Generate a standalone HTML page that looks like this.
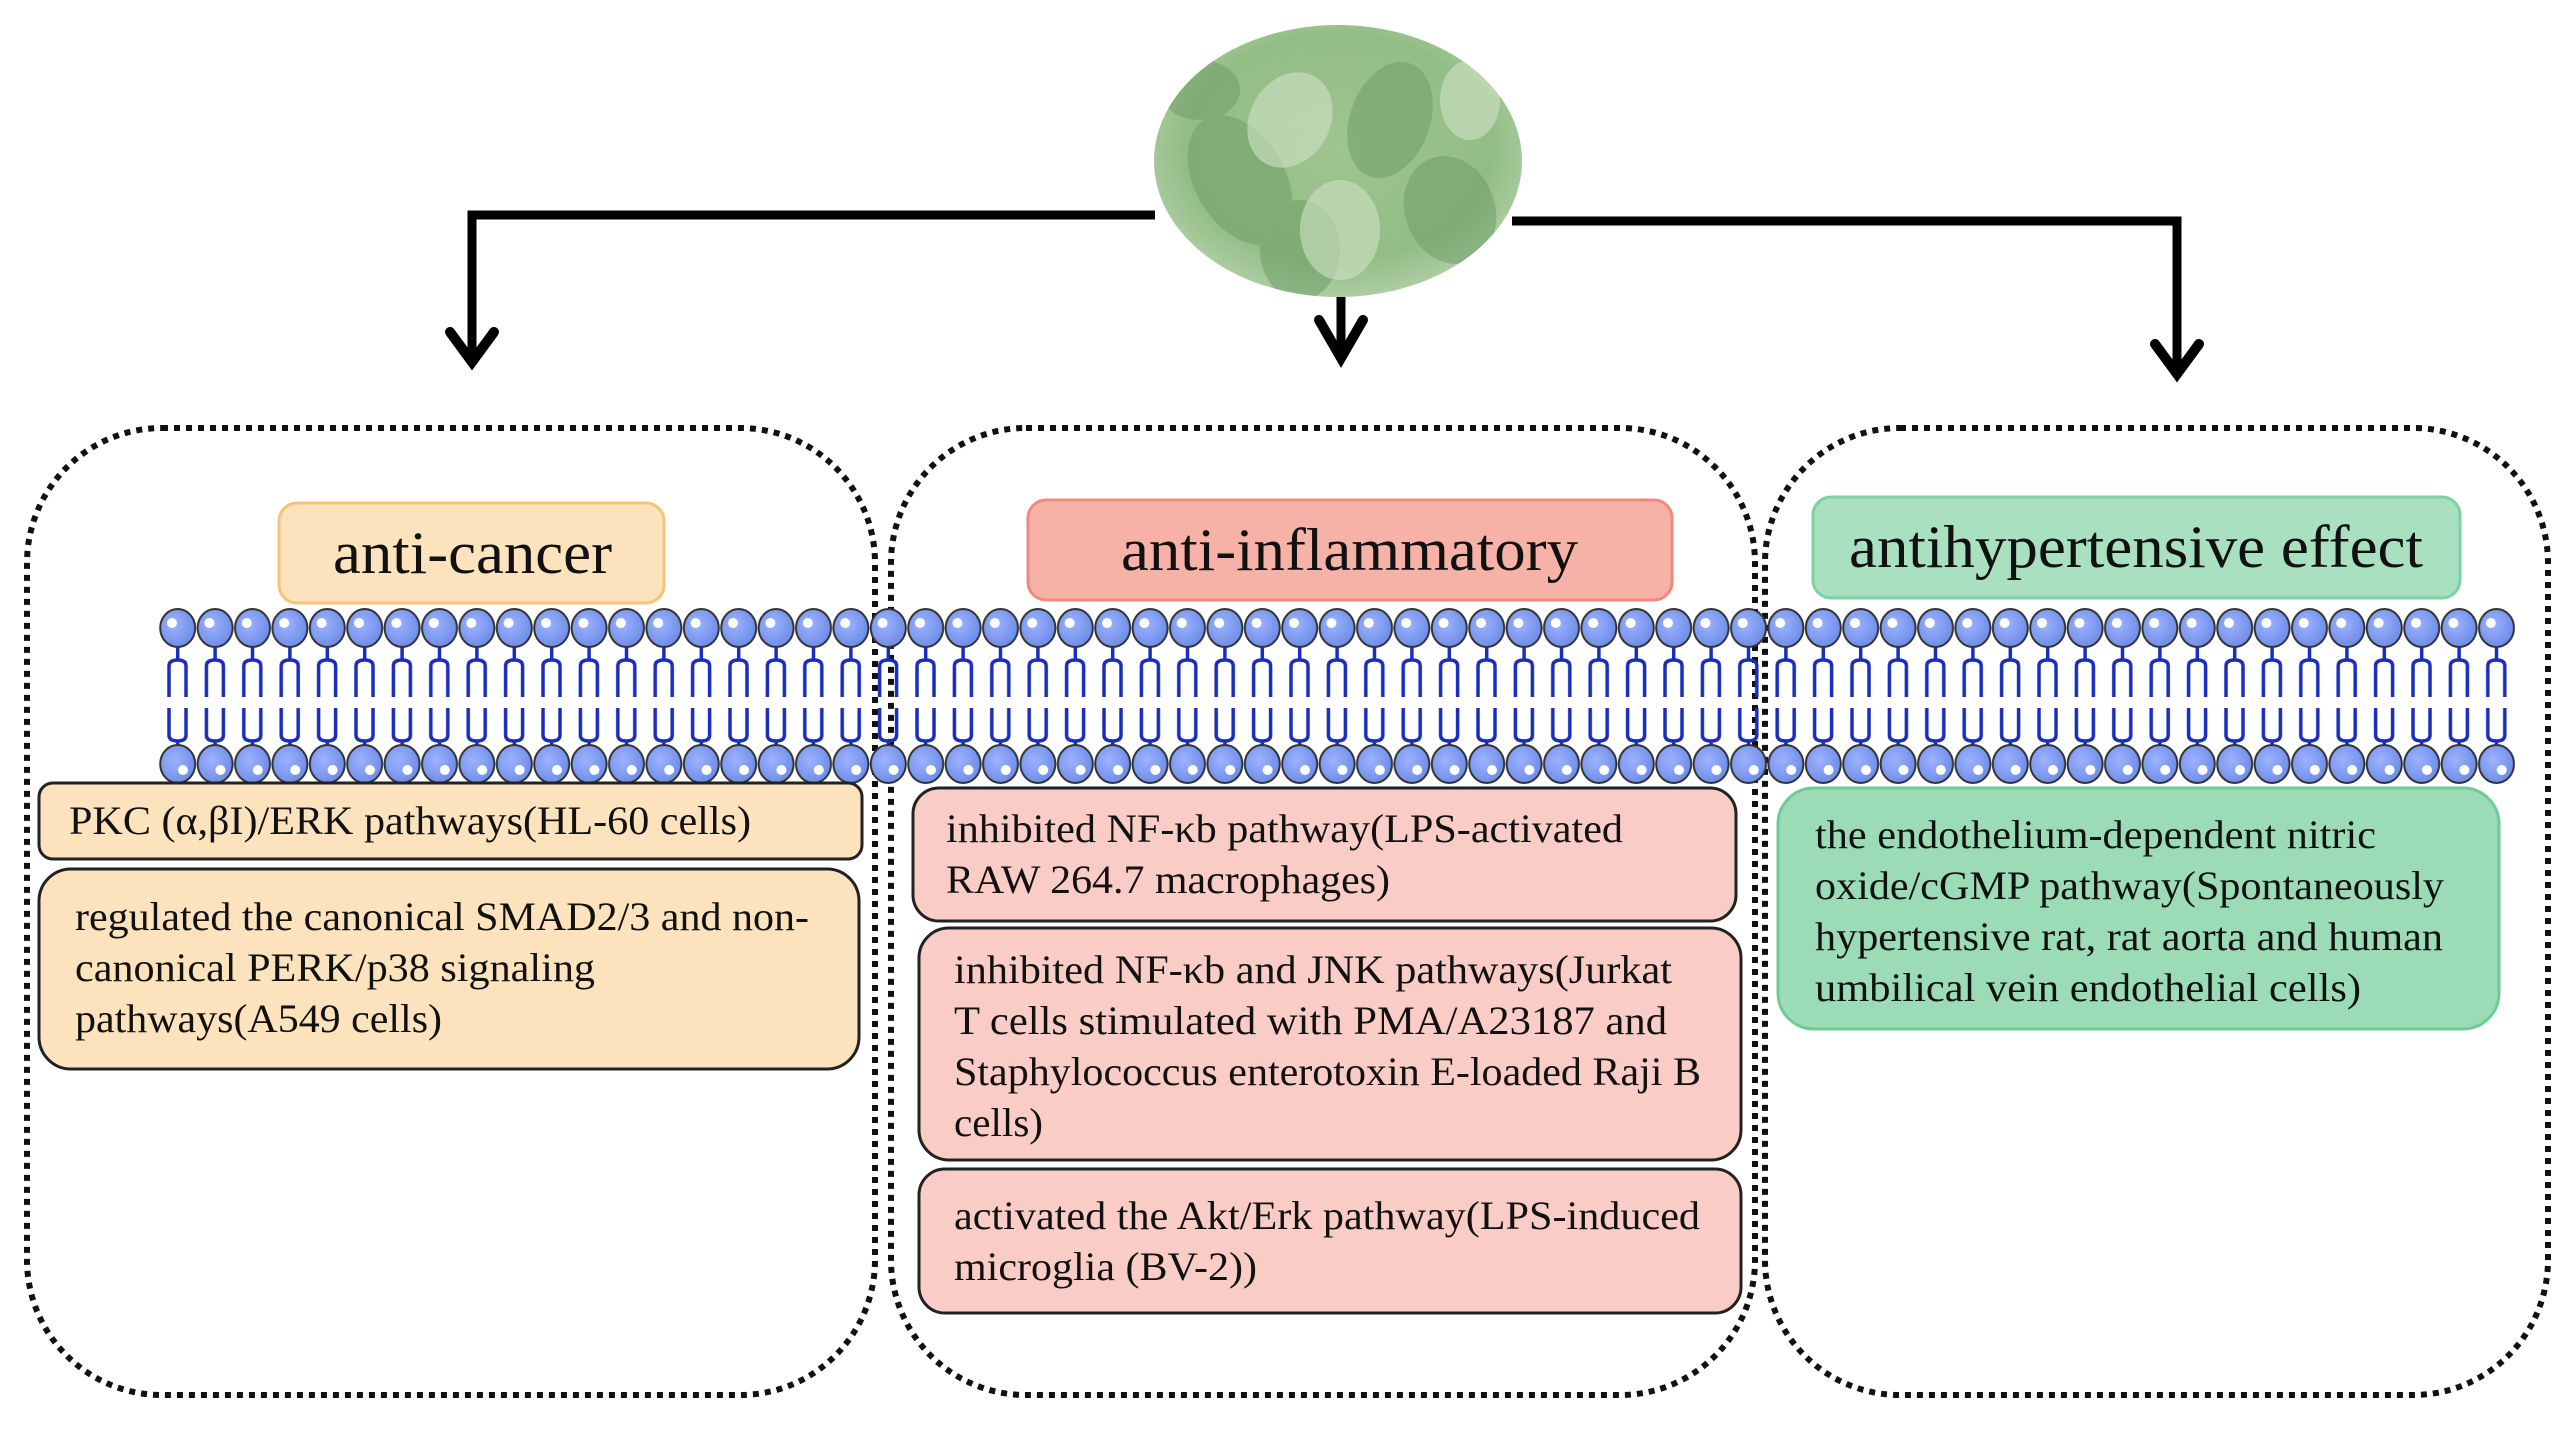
<!DOCTYPE html>
<html><head><meta charset="utf-8"><style>
html,body{margin:0;padding:0;background:#fff}
svg{display:block}
</style></head><body>
<svg width="2570" height="1430" viewBox="0 0 2570 1430" xmlns="http://www.w3.org/2000/svg" font-family="'Liberation Serif', 'DejaVu Serif', serif">
<defs>
<radialGradient id="leaf" cx="50%" cy="45%" r="60%">
<stop offset="0" stop-color="#9fc48f"/><stop offset="0.7" stop-color="#93bd86"/><stop offset="1" stop-color="#b7d3ae"/>
</radialGradient>
<radialGradient id="head" cx="40%" cy="40%" r="60%">
<stop offset="0" stop-color="#9db2ff"/><stop offset="1" stop-color="#6f8ee8"/>
</radialGradient>
<pattern id="lip" x="159" y="600" width="37.4" height="195" patternUnits="userSpaceOnUse">
<g stroke="#1a2dbf" stroke-width="3.5" fill="none">
<path d="M18.7 44 V60"/>
<path d="M10 97 V66 Q10 60 18.7 60 Q27 60 27 66 V97"/>
<path d="M10 108 V135 Q10 141 18.7 141 Q27 141 27 135 V108 M18.7 141 V150"/>
</g>
<ellipse cx="18.7" cy="28" rx="17.5" ry="19" fill="url(#head)" stroke="#333" stroke-width="2"/>
<circle cx="13" cy="23" r="5" fill="#fff"/>
<ellipse cx="18.7" cy="164" rx="17.5" ry="19" fill="url(#head)" stroke="#333" stroke-width="2"/>
<circle cx="24" cy="170" r="5" fill="#fff"/>
</pattern>
<clipPath id="ec"><ellipse cx="1338" cy="161" rx="184" ry="136"/></clipPath>
</defs>

<!-- leaf ellipse -->
<ellipse cx="1338" cy="161" rx="184" ry="136" fill="url(#leaf)"/>
<g clip-path="url(#ec)">
<g fill="#6f9f66" opacity="0.55">
<ellipse cx="1240" cy="180" rx="45" ry="70" transform="rotate(-30 1240 180)"/>
<ellipse cx="1390" cy="120" rx="40" ry="60" transform="rotate(20 1390 120)"/>
<ellipse cx="1450" cy="210" rx="45" ry="55" transform="rotate(-20 1450 210)"/>
<ellipse cx="1300" cy="250" rx="40" ry="50"/>
<ellipse cx="1200" cy="90" rx="40" ry="30"/>
</g>
<g fill="#cfe3c6" opacity="0.6">
<ellipse cx="1340" cy="230" rx="40" ry="50"/>
<ellipse cx="1290" cy="120" rx="40" ry="50" transform="rotate(30 1290 120)"/>
<ellipse cx="1470" cy="100" rx="30" ry="40"/>
</g>
</g>

<!-- connectors -->
<g stroke="#000" stroke-width="9" fill="none">
<polyline points="1155,215 472,215 472,360"/>
<polyline points="1512,221 2177,221 2177,372"/>
<line x1="1341" y1="297" x2="1341" y2="358"/>
</g>
<g stroke="#000" stroke-width="10" fill="none" stroke-linecap="round">
<polyline points="450,332 472,362 494,332"/>
<polyline points="1319,320 1341,358 1363,320"/>
<polyline points="2155,344 2177,374 2199,344"/>
</g>

<!-- dotted boxes -->
<g fill="none" stroke="#111" stroke-width="6" stroke-dasharray="6 6">
<rect x="27" y="428" width="848" height="967" rx="135"/>
<rect x="891" y="428" width="864" height="967" rx="135"/>
<rect x="1765" y="428" width="783" height="967" rx="135"/>
</g>

<!-- title boxes -->
<rect x="279" y="503" width="385" height="100" rx="18" fill="#fde3bd" stroke="#f8c27a" stroke-width="3"/>
<text x="333" y="573" font-size="60" fill="#111" textLength="279" lengthAdjust="spacingAndGlyphs">anti-cancer</text>
<rect x="1028" y="500" width="644" height="100" rx="18" fill="#f7b2a8" stroke="#f08a7d" stroke-width="3"/>
<text x="1121" y="570" font-size="60" fill="#111" textLength="457" lengthAdjust="spacingAndGlyphs">anti-inflammatory</text>
<rect x="1813" y="497" width="647" height="101" rx="18" fill="#a8e0c0" stroke="#7fd0a2" stroke-width="3"/>
<text x="1849" y="567" font-size="60" fill="#111" textLength="574" lengthAdjust="spacingAndGlyphs">antihypertensive effect</text>

<!-- membrane -->
<rect x="159" y="600" width="2356" height="195" fill="url(#lip)"/>

<g font-size="40" fill="#111">
<!-- left boxes -->
<rect x="39" y="783" width="823" height="76" rx="14" fill="#fde3bd" stroke="#222" stroke-width="3"/>
<text x="69" y="834" textLength="682" lengthAdjust="spacingAndGlyphs">PKC (α,βI)/ERK pathways(HL-60 cells)</text>
<rect x="39" y="869" width="820" height="200" rx="32" fill="#fde3bd" stroke="#222" stroke-width="3"/>
<text x="75" y="930" textLength="734" lengthAdjust="spacingAndGlyphs">regulated the canonical SMAD2/3 and non-</text>
<text x="75" y="981" textLength="520" lengthAdjust="spacingAndGlyphs">canonical PERK/p38 signaling</text>
<text x="75" y="1032" textLength="367" lengthAdjust="spacingAndGlyphs">pathways(A549 cells)</text>

<!-- middle boxes -->
<rect x="913" y="788" width="823" height="133" rx="26" fill="#f9cdc5" stroke="#222" stroke-width="3"/>
<text x="946" y="842" textLength="677" lengthAdjust="spacingAndGlyphs">inhibited NF-κb pathway(LPS-activated</text>
<text x="946" y="893" textLength="444" lengthAdjust="spacingAndGlyphs">RAW 264.7 macrophages)</text>
<rect x="919" y="928" width="822" height="232" rx="30" fill="#f9cdc5" stroke="#222" stroke-width="3"/>
<text x="954" y="983" textLength="718" lengthAdjust="spacingAndGlyphs">inhibited NF-κb and JNK pathways(Jurkat</text>
<text x="954" y="1034" textLength="713" lengthAdjust="spacingAndGlyphs">T cells stimulated with PMA/A23187 and</text>
<text x="954" y="1085" textLength="747" lengthAdjust="spacingAndGlyphs">Staphylococcus enterotoxin E-loaded Raji B</text>
<text x="954" y="1136" textLength="89" lengthAdjust="spacingAndGlyphs">cells)</text>
<rect x="919" y="1169" width="822" height="144" rx="26" fill="#f9cdc5" stroke="#222" stroke-width="3"/>
<text x="954" y="1229" textLength="746" lengthAdjust="spacingAndGlyphs">activated the Akt/Erk pathway(LPS-induced</text>
<text x="954" y="1280" textLength="303" lengthAdjust="spacingAndGlyphs">microglia (BV-2))</text>

<!-- right box -->
<rect x="1778" y="788" width="721" height="241" rx="36" fill="#9bdcb7" stroke="#6fcb95" stroke-width="3"/>
<text x="1815" y="848" textLength="561" lengthAdjust="spacingAndGlyphs">the endothelium-dependent nitric</text>
<text x="1815" y="899" textLength="629" lengthAdjust="spacingAndGlyphs">oxide/cGMP pathway(Spontaneously</text>
<text x="1815" y="950" textLength="628" lengthAdjust="spacingAndGlyphs">hypertensive rat, rat aorta and human</text>
<text x="1815" y="1001" textLength="546" lengthAdjust="spacingAndGlyphs">umbilical vein endothelial cells)</text>
</g>
</svg>
</body></html>
